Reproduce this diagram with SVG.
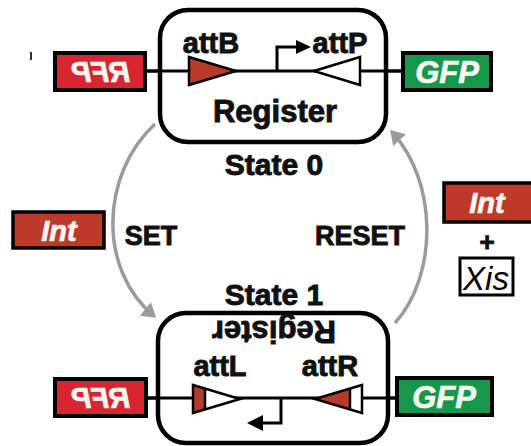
<svg xmlns="http://www.w3.org/2000/svg" width="531" height="446" viewBox="0 0 531 446">
<defs>
<marker id="garrow" markerWidth="5" markerHeight="5" refX="3.2" refY="2.5" orient="auto" markerUnits="strokeWidth">
<path d="M0,0 L4,2.5 L0,5 Z" fill="#9b9b9b"/>
</marker>
</defs>
<style>
.box{fill:#fff;stroke:#000;stroke-width:4.5}
.dna{stroke:#000;stroke-width:3;fill:none}
.lbl{font-family:"Liberation Sans",Arial,sans-serif;font-weight:bold;fill:#111;stroke:#111;stroke-width:0.9;text-anchor:middle}
.gene{font-family:"Liberation Sans",Arial,sans-serif;font-weight:bold;font-style:italic;fill:#f8f6f2;stroke:#f8f6f2;stroke-width:0.7;text-anchor:middle}
.rfp{fill:#d8252f;stroke:#000;stroke-width:4}
.gfp{fill:#15984c;stroke:#000;stroke-width:4}
.int{fill:#bd3a2a;stroke:#000;stroke-width:3.5}
.tri{stroke:#000;stroke-width:2.5;stroke-linejoin:miter}
.arc{fill:none;stroke:#9b9b9b;stroke-width:3.5;marker-end:url(#garrow)}
</style>

<g id="connectors">
<path class="arc" d="M155,124 C100,175 98,270 154,316"/>
<path class="arc" d="M395,323 C438,275 438,182 392,132"/>
</g>

<rect x="30" y="52" width="2" height="8" fill="#333"/>

<g id="state0">
<line class="dna" x1="146" y1="71" x2="403" y2="71"/>
<rect class="box" x="160" y="10" width="226" height="132" rx="28"/>
<line class="dna" x1="146" y1="71" x2="403" y2="71"/>
<polygon class="tri" points="189,57 236,71 189,85" fill="#b83b2a"/>
<polygon class="tri" points="314,71 360,57 360,85" fill="#fff"/>
<polyline class="dna" points="277,71 277,47 298,47"/>
<polygon points="296,40 311,47 296,54" fill="#000"/>
<text class="lbl" x="211" y="53" font-size="29">attB</text>
<text class="lbl" x="340" y="53" font-size="29">attP</text>
<text class="lbl" x="275" y="122" font-size="31">Register</text>
<text class="lbl" x="274" y="175" font-size="30">State 0</text>
</g>

<g id="rfp-top">
<rect class="rfp" x="55" y="53" width="90" height="37"/>
<text class="gene" x="-101" y="82" font-size="29" transform="scale(-1,1)">RFP</text>
</g>
<g id="gfp-top">
<rect class="gfp" x="403" y="53" width="88" height="37"/>
<text class="gene" x="447" y="83" font-size="31">GFP</text>
</g>

<g id="state1">
<line class="dna" x1="146" y1="398" x2="397" y2="398"/>
<rect class="box" x="158" y="313" width="230" height="130" rx="28"/>
<line class="dna" x1="146" y1="398" x2="397" y2="398"/>
<polygon points="193,385 205,388.6 205,409.4 193,413" fill="#b83b2a"/>
<polygon points="205,388.6 240,399 205,409.4" fill="#fff"/>
<polygon class="tri" points="193,385 240,399 193,413" fill="none"/>
<line x1="205" y1="388.6" x2="205" y2="409.4" stroke="#000" stroke-width="2.5"/>
<polygon points="315,399 350,388.6 350,409.4" fill="#b83b2a"/>
<polygon points="350,388.6 362,385 362,413 350,409.4" fill="#fff"/>
<polygon class="tri" points="315,399 362,385 362,413" fill="none"/>
<line x1="350" y1="388.6" x2="350" y2="409.4" stroke="#000" stroke-width="2.5"/>
<polyline class="dna" points="281,398 281,423 261,423"/>
<polygon points="263,415 247,423 263,431" fill="#000"/>
<text class="lbl" x="220" y="376" font-size="29">attL</text>
<text class="lbl" x="330" y="376" font-size="29">attR</text>
<text class="lbl" x="274" y="343" font-size="31" transform="rotate(180 274 332)">Register</text>
<text class="lbl" x="274" y="305" font-size="30">State 1</text>
</g>

<g id="rfp-bottom">
<rect class="rfp" x="55" y="379" width="91" height="37"/>
<text class="gene" x="-101" y="408" font-size="29" transform="scale(-1,1)">RFP</text>
</g>
<g id="gfp-bottom">
<rect class="gfp" x="397" y="378" width="95" height="37"/>
<text class="gene" x="444" y="408" font-size="31">GFP</text>
</g>

<g id="set">
<rect class="int" x="13" y="212" width="91" height="36"/>
<text class="gene" x="59" y="241" font-size="29">Int</text>
<text class="lbl" x="151" y="245" font-size="27">SET</text>
</g>

<g id="reset">
<text class="lbl" x="360" y="245" font-size="27">RESET</text>
<rect class="int" x="444" y="183" width="92" height="39"/>
<text class="gene" x="487" y="213" font-size="29">Int</text>
<text class="lbl" x="487" y="251" font-size="26">+</text>
<rect x="460" y="258" width="53" height="37" fill="#fff" stroke="#000" stroke-width="3"/>
<text x="486" y="290" font-family="'Liberation Sans',Arial,sans-serif" font-style="italic" font-size="33" text-anchor="middle" textLength="46" lengthAdjust="spacingAndGlyphs" fill="#000">Xis</text>
</g>
</svg>
